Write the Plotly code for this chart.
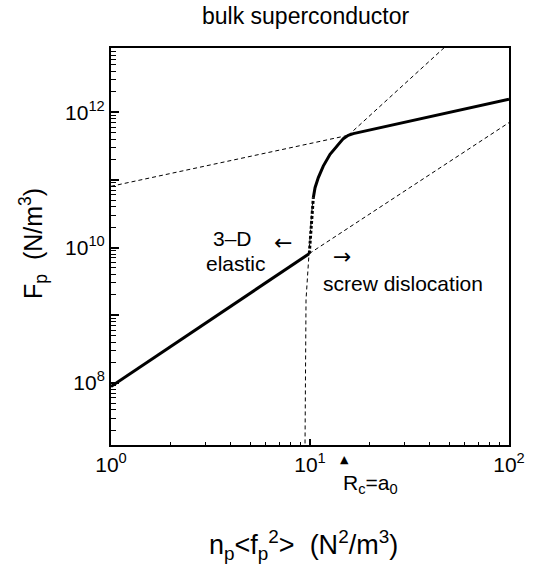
import plotly.graph_objects as go

# ---- data ----
# 3-D elastic regime (solid)
elastic_x = [1.0, 9.9]
elastic_y = [8.8e7, 8.1e9]

# lower screw-dislocation asymptote (thin dashed)
screw_low_x = [9.9, 100.0]
screw_low_y = [8.1e9, 7.03e11]

# jump between branches (thick dotted)
jump_x = [9.92, 10.39]
jump_y = [8.1e9, 5.45e10]

# steep branch, lower unstable part (thin dashed)
steep_low_x = [9.40, 9.44, 9.55, 9.92, 10.03, 10.2, 10.39]
steep_low_y = [1.0e7, 1.2e7, 1.7e9, 8.4e9, 1.85e10, 3.31e10, 5.45e10]

# steep branch + upper screw regime (solid)
upper_x = [10.39, 10.60, 11.01, 11.66, 12.61, 13.62, 14.70, 15.57, 16.51, 100.0]
upper_y = [5.45e10, 7.66e10, 1.08e11, 1.60e11, 2.39e11, 3.17e11, 4.07e11, 4.56e11, 4.83e11, 1.56e12]

# upper-left asymptote (thin dashed)
ul_x = [1.0, 15.57]
ul_y = [8.04e10, 4.56e11]

# upper-right continuation (thin dashed)
ur_x = [15.57, 49.1]
ur_y = [4.56e11, 1.0e13]

x_ticks = [1, 10, 100]
x_ticktext = ["10<sup>0</sup>", "10<sup>1</sup>", "10<sup>2</sup>"]
y_ticks = [1e8, 1e9, 1e10, 1e11, 1e12]
y_ticktext = ["10<sup>8</sup>", "", "10<sup>10</sup>", "", "10<sup>12</sup>"]

x_minor = [m * 10 ** d for d in range(0, 2) for m in range(2, 10)]
y_minor = [m * 10 ** d for d in range(7, 13) for m in range(2, 10)]

FONT = "Liberation Sans, Arial, Helvetica, sans-serif"

fig = go.Figure()

def add(x, y, width, dash=None):
    fig.add_trace(go.Scatter(x=x, y=y, mode="lines",
                             line=dict(color="black", width=width, dash=dash),
                             showlegend=False, hoverinfo="skip"))

add(ul_x, ul_y, 1, "4px,3px")
add(ur_x, ur_y, 1, "4px,3px")
add(screw_low_x, screw_low_y, 1, "4px,3px")
add(steep_low_x, steep_low_y, 1, "4px,3px")
add(jump_x, jump_y, 3, "3px,2px")
add(elastic_x, elastic_y, 3)
add(upper_x, upper_y, 3)

L, R, T, B = 111, 31, 48, 123
W, H = 540, 568
pw, ph = W - L - R, H - T - B

def px(xp, yp):
    return (xp - L) / pw, (H - B - yp) / ph

def ann(text, xp, yp, size, family=FONT, **kw):
    x, y = px(xp, yp)
    fig.add_annotation(text=text, x=x, y=y, xref="paper", yref="paper",
                       showarrow=False, xanchor="center", yanchor="middle",
                       font=dict(family=family, size=size, color="black"), **kw)

ann("bulk superconductor", 305, 16, 23)
ann("3\u2013D", 232, 238, 21)
ann("elastic", 236, 263, 21)
ann("\u2190", 283, 242, 22, family="DejaVu Sans")
ann("\u2192", 342, 256, 22, family="DejaVu Sans")
ann("screw dislocation", 403, 283, 21)
ann("\u25B2", 344, 459, 11, family="DejaVu Sans")
ann("R<sub>c</sub>=a<sub>0</sub>", 370, 484, 21)
ann("n<sub>p</sub>&lt;f<sub>p</sub><sup>2</sup>&gt;&nbsp;&nbsp;(N<sup>2</sup>/m<sup>3</sup>)", 303, 545, 27)
ann("F<sub>p</sub>&nbsp;&nbsp;(N/m<sup>3</sup>)", 33, 244, 25, textangle=-90)

fig.update_layout(
    width=W, height=H,
    margin=dict(l=L, r=R, t=T, b=B),
    paper_bgcolor="white", plot_bgcolor="white",
    font=dict(family=FONT, size=20, color="black"),
    showlegend=False,
)
fig.update_xaxes(
    type="log", range=[0, 2],
    tickmode="array", tickvals=x_ticks, ticktext=x_ticktext,
    ticks="inside", ticklen=6, tickwidth=1.5, tickcolor="black",
    showline=True, linewidth=2, linecolor="black", mirror=True,
    showgrid=False, zeroline=False,
    tickfont=dict(family=FONT, size=21),
    minor=dict(tickvals=x_minor, ticks="inside", ticklen=3, tickwidth=1,
               tickcolor="black", showgrid=False),
)
fig.update_yaxes(
    type="log", range=[7.08, 12.95],
    tickmode="array", tickvals=y_ticks, ticktext=y_ticktext,
    ticks="inside", ticklen=8, tickwidth=1.5, tickcolor="black",
    showline=True, linewidth=2, linecolor="black", mirror=True,
    showgrid=False, zeroline=False,
    tickfont=dict(family=FONT, size=21),
    minor=dict(tickvals=y_minor, ticks="inside", ticklen=5, tickwidth=1,
               tickcolor="black", showgrid=False),
)

fig.write_html("out.html")
